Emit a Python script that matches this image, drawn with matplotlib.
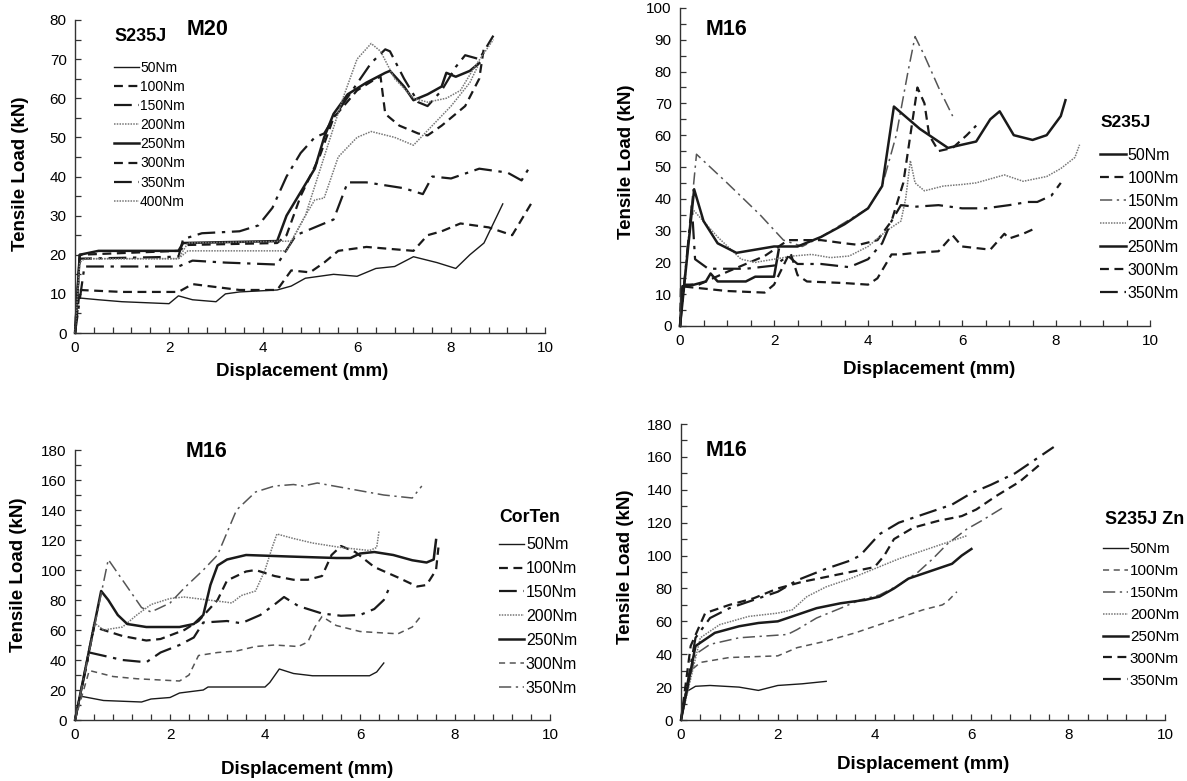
import matplotlib
matplotlib.use("Agg")
import matplotlib.pyplot as plt
from matplotlib.ticker import MultipleLocator

plt.rcParams['font.family'] = ['Liberation Sans', 'DejaVu Sans']

# ---------------- Panel 1: M20, S235J ----------------
p1_labels = ["50Nm", "100Nm", "150Nm", "200Nm", "250Nm", "300Nm", "350Nm", "400Nm"]
p1_50_x = [0, 0.05, 0.5, 1.0, 2.0, 2.2, 2.5, 3.0, 3.2, 3.5, 4.3, 4.6, 4.9, 5.5, 6.0, 6.4, 6.8, 7.2, 7.7, 8.1, 8.4, 8.7, 8.9, 9.1]
p1_50_y = [0, 9, 8.5, 8, 7.5, 9.5, 8.5, 8, 10, 10.5, 11, 12, 14, 15, 14.5, 16.5, 17, 19.5, 18, 16.5, 20, 23, 28, 33]
p1_100_x = [0, 0.1, 1.0, 2.2, 2.5, 3.5, 4.3, 4.6, 5.0, 5.3, 5.6, 6.2, 7.2, 7.5, 7.8, 8.2, 8.8, 9.3, 9.7]
p1_100_y = [0, 11, 10.5, 10.5, 12.5, 11, 11, 16, 15.5, 18, 21, 22, 21, 25, 26, 28, 27, 25, 33]
p1_150_x = [0, 0.2, 1.0, 2.2, 2.5, 3.2, 4.3, 4.7, 5.2, 5.5, 5.8, 6.2, 7.0, 7.4, 7.6, 8.0, 8.6, 9.2, 9.5, 9.7]
p1_150_y = [0, 17, 17, 17, 18.5, 18, 17.5, 25, 27.5, 29, 38.5, 38.5, 37, 35.5, 40, 39.5, 42, 41, 39, 43]
p1_200_x = [0, 0.1, 1.0, 2.2, 2.4, 4.5, 4.9, 5.1, 5.3, 5.6, 6.0, 6.3, 6.8, 7.2, 7.6, 8.0, 8.4, 8.6]
p1_200_y = [0, 19, 19, 19, 21, 21, 30, 34, 34.5, 45, 50, 51.5, 50, 48, 53, 58, 64, 69]
p1_250_x = [0, 0.1, 0.5, 2.2, 2.3, 4.3, 4.5, 4.8, 5.1, 5.3, 5.5, 5.8, 6.2, 6.6, 6.7, 7.0, 7.2, 7.5, 7.8, 7.9, 8.1, 8.4, 8.6]
p1_250_y = [0, 20, 21, 21, 23, 23.5, 30, 36, 42, 50, 56, 61, 64, 66.5, 67, 63, 59.5, 61, 63, 66.5, 65.5, 67, 69]
p1_300_x = [0, 0.1, 2.2, 2.4, 4.3, 4.5, 4.8, 5.2, 5.5, 6.0, 6.4, 6.5, 6.6, 6.9, 7.3, 7.5, 7.8, 8.3, 8.6, 8.7]
p1_300_y = [0, 20, 21, 22.5, 23, 25, 35, 45, 55, 62, 65, 65.5, 56, 53, 51, 50.5, 53, 58, 65, 73]
p1_350_x = [0, 0.1, 2.2, 2.3, 2.7, 3.5, 3.9, 4.2, 4.5, 4.8, 5.1, 5.3, 5.5, 5.9, 6.3, 6.6, 6.7, 7.0, 7.3, 7.5, 7.8, 8.1, 8.3, 8.6, 8.9]
p1_350_y = [0, 19, 19.5, 24, 25.5, 26, 27.5, 32, 40, 46, 50, 51, 55, 62, 69, 72.5, 72, 65, 59, 58, 62, 68, 71, 70, 76]
p1_400_x = [0, 0.1, 0.2, 2.2, 2.4, 4.6, 4.9, 5.3, 5.7, 6.0, 6.3, 6.5, 6.8, 7.2, 7.5, 7.9, 8.2, 8.5, 8.9]
p1_400_y = [0, 18, 19, 19, 23, 23.5, 30, 45, 60, 70, 74, 72, 65, 60, 59, 60, 62, 68, 75]

# ---------------- Panel 2: M16, S235J ----------------
p2_labels = ["50Nm", "100Nm", "150Nm", "200Nm", "250Nm", "300Nm", "350Nm"]
p2_50_x = [0, 0.05, 0.3, 0.55, 0.65, 0.8, 1.4, 1.6, 2.0, 2.1]
p2_50_y = [0, 12.5, 13, 14, 16.5, 14, 14, 15.5, 15.5, 24]
p2_100_x = [0, 0.05, 0.4, 1.0, 1.8, 2.1, 2.3, 3.0, 3.5, 3.8, 4.2, 4.5, 4.75, 4.9, 5.05, 5.2, 5.3, 5.5, 5.8, 6.1, 6.3]
p2_100_y = [0, 13, 13, 17, 22, 25, 27, 27, 26, 25.5, 27, 33, 45, 60, 75, 70, 60, 55, 56, 60, 63]
p2_150_x = [0, 0.35, 1.0, 1.7, 2.2, 2.6, 3.0, 4.0, 4.3, 4.6, 4.85, 5.0, 5.2, 5.5, 5.8]
p2_150_y = [0, 54, 45, 35, 27, 25, 28, 37, 44, 60, 80, 91, 85, 75, 66]
p2_200_x = [0, 0.25, 0.8, 1.3, 1.6, 2.0, 2.4, 2.8, 3.2, 3.6, 4.0, 4.4, 4.7, 4.8, 4.9, 5.0, 5.2, 5.6, 6.0, 6.3, 6.9, 7.3, 7.8, 8.1, 8.4, 8.5]
p2_200_y = [0, 37, 28, 21, 20, 21, 22, 22.5, 21.5, 22, 25, 30, 33, 40, 52, 45, 42.5, 44, 44.5, 45, 47.5, 45.5, 47, 49.5, 53, 57]
p2_250_x = [0, 0.3, 0.5, 0.8, 1.2, 2.0, 2.5, 3.0, 3.5, 4.0, 4.3, 4.55, 5.1, 5.7, 6.3, 6.6, 6.8, 7.1, 7.5, 7.8, 8.1, 8.2]
p2_250_y = [0, 43, 33, 26, 23, 25, 25, 28, 32, 37, 44, 69, 62, 56, 58, 65, 67.5, 60, 58.5, 60, 66, 71]
p2_300_x = [0, 0.02, 1.0, 1.8, 2.0, 2.3, 2.35, 2.5, 2.7, 3.5, 4.0, 4.2, 4.5, 4.7, 5.0, 5.5, 5.8, 6.0, 6.6, 6.9, 7.0, 7.3, 7.6]
p2_300_y = [0, 12.5, 11, 10.5, 13, 22, 23, 16, 14, 13.5, 13, 15, 22.5, 22.5, 23, 23.5, 28.5, 25, 24, 29, 27.5, 29, 31]
p2_350_x = [0, 0.25, 0.32, 0.6, 1.4, 2.0, 2.3, 2.5, 3.0, 3.6, 4.0, 4.3, 4.5, 4.7, 5.0, 5.5, 6.0, 6.5, 7.0, 7.4, 7.6, 7.9, 8.1]
p2_350_y = [0, 38, 21, 18, 18, 19, 22, 19.5, 19.5, 18.5, 21, 26, 33, 38, 37.5, 38, 37, 37, 38, 39, 39, 41, 45]

# ---------------- Panel 3: M16, CorTen ----------------
p3_labels = ["50Nm", "100Nm", "150Nm", "200Nm", "250Nm", "300Nm", "350Nm"]
p3_50_x = [0, 0.1, 0.6, 1.4, 1.6, 2.0, 2.2, 2.7, 2.8, 4.0, 4.1, 4.3, 4.6, 5.0, 6.2, 6.35, 6.5]
p3_50_y = [0, 16, 13, 12, 14, 15, 18, 20, 22, 22, 25, 34, 31, 29.5, 29.5, 32, 38]
p3_100_x = [0, 0.4, 1.0, 1.5, 1.8, 2.3, 2.6, 3.0, 3.2, 3.6, 3.8, 4.2, 4.6, 4.9, 5.2, 5.4, 5.6, 5.9, 6.3, 6.8, 7.2, 7.4, 7.6, 7.65]
p3_100_y = [0, 62, 56, 53, 54, 60, 66, 80, 93, 99, 100, 96, 93.5, 93.5, 96, 110, 116, 112, 102, 95, 89, 90, 100, 115]
p3_150_x = [0, 0.3, 1.0, 1.5, 1.8, 2.2, 2.5, 2.7, 3.2, 3.5, 3.9, 4.2, 4.4, 4.7, 5.2, 5.6, 6.0, 6.3, 6.5, 6.6]
p3_150_y = [0, 45, 40, 38.5, 45, 50, 55, 65, 66, 64.5, 70, 77, 82, 76, 71, 69.5, 70, 74, 80, 87]
p3_200_x = [0, 0.4, 0.6, 1.0, 1.3, 1.6, 2.0, 2.3, 2.8, 3.2, 3.3, 3.5, 3.8, 4.0, 4.15, 4.25, 4.6, 5.0, 5.6, 6.2, 6.35, 6.4]
p3_200_y = [0, 65, 60, 62, 70, 77, 81, 82, 80, 78.5, 78, 83, 86, 100, 115, 124, 121, 118, 115, 113, 115, 126]
p3_250_x = [0, 0.55, 0.7, 0.9, 1.1, 1.5, 2.2, 2.5, 2.7, 2.85, 3.0, 3.2, 3.6, 4.5, 5.5, 5.8, 6.0, 6.3, 6.7, 7.1, 7.4, 7.55, 7.6]
p3_250_y = [0, 86, 80, 70, 64, 62, 62, 64, 70, 90, 103, 107, 110, 109, 108, 108, 111, 112, 110, 106.5, 105, 107, 120]
p3_300_x = [0, 0.3, 0.8, 1.3, 2.2, 2.4, 2.6, 3.0, 3.4, 3.8, 4.2, 4.7, 4.9, 5.05, 5.2, 5.5, 6.0, 6.5, 6.8, 7.1, 7.3]
p3_300_y = [0, 33, 29, 27.5, 26, 30, 43, 45, 46, 49, 50, 49, 52, 62, 69, 63, 59, 58, 57.5, 62, 70]
p3_350_x = [0, 0.7, 1.4, 1.6, 2.0, 2.3, 2.7, 3.0, 3.4, 3.8, 4.2, 4.6, 4.8, 5.1, 5.8, 6.5, 7.1, 7.3]
p3_350_y = [0, 107, 75, 72, 78, 88, 100, 110, 140, 152, 156, 157, 156, 158, 154, 150, 148, 156]

# ---------------- Panel 4: M16, S235J Zn ----------------
p4_labels = ["50Nm", "100Nm", "150Nm", "200Nm", "250Nm", "300Nm", "350Nm"]
p4_50_x = [0, 0.1, 0.3, 0.6, 1.2, 1.6, 2.0, 2.5, 3.0]
p4_50_y = [0, 17, 20.5, 21, 20, 18, 21, 22, 23.5]
p4_100_x = [0, 0.2, 0.4, 1.0, 2.0, 2.4, 3.0, 3.6, 4.0, 4.5, 5.0, 5.4, 5.5, 5.7]
p4_100_y = [0, 30, 35, 38, 39, 44, 48, 53, 57, 62, 67, 70, 72, 78]
p4_150_x = [0, 0.3, 0.6, 1.2, 1.7, 2.2, 2.4, 2.8, 3.3, 3.7, 4.1, 4.5, 4.9, 5.2, 5.5, 5.9, 6.2, 6.7]
p4_150_y = [0, 40, 46, 50, 51, 52, 55, 62, 68, 73, 76, 82, 90, 98, 107, 116, 121, 130]
p4_200_x = [0, 0.4, 0.8, 1.4, 2.0, 2.3, 2.6, 3.0, 3.5, 4.0, 4.5, 5.0, 5.5, 5.9]
p4_200_y = [0, 50, 58, 63, 65, 67, 75, 81, 86, 92, 98, 103, 108, 112]
p4_250_x = [0, 0.3, 0.7, 1.2, 1.6, 2.0, 2.4, 2.8, 3.3, 3.8, 4.1, 4.4, 4.7, 5.1, 5.4, 5.6, 5.8, 6.0]
p4_250_y = [0, 45, 53, 57, 59, 60, 64, 68, 71, 73, 75, 80, 86, 90, 93, 95, 100, 104]
p4_300_x = [0, 0.2, 0.5, 1.0, 1.5, 2.0, 2.5, 3.0, 3.5, 4.0, 4.2, 4.4, 4.8, 5.3, 5.8, 6.1, 6.5, 7.0, 7.4]
p4_300_y = [0, 45, 65, 70, 74, 80, 84, 87, 90, 93, 100, 110, 117, 121, 124, 128, 136, 145, 155]
p4_350_x = [0, 0.3, 0.6, 1.0, 1.4, 1.7, 2.0, 2.4, 3.0, 3.5, 3.7, 4.1, 4.5, 4.9, 5.3, 5.6, 6.0, 6.4, 6.9, 7.3, 7.7]
p4_350_y = [0, 50, 62, 68, 72, 75, 78, 85, 92, 97, 100, 113, 120, 124, 128, 131, 138, 143, 150, 158, 166]

# ---------------- styles ----------------
K = "#1a1a1a"
G = "#555555"
S_THIN = dict(color=K, lw=1.0, ls="-")
S_THICK = dict(color=K, lw=1.8, ls="-")
D_THIN = dict(color=G, lw=1.1, ls=(0, (4, 3)))
D_THICK = dict(color=K, lw=1.6, ls=(0, (4, 2.5)))
DD_THIN = dict(color=G, lw=1.1, ls=(0, (8, 3, 1.5, 3)))
DD_THICK = dict(color=K, lw=1.6, ls=(0, (8, 3, 1.5, 3)))
DOT = dict(color="#777777", lw=1.1, ls=(0, (1, 0.8)))

fig = plt.figure(figsize=(11.87, 7.81), dpi=100)


def setup(ax, ymax, ystep, yminor, xminor):
    ax.set_xlim(0, 10)
    ax.set_ylim(0, ymax)
    ax.xaxis.set_major_locator(MultipleLocator(2))
    ax.xaxis.set_minor_locator(MultipleLocator(xminor))
    ax.yaxis.set_major_locator(MultipleLocator(ystep))
    ax.yaxis.set_minor_locator(MultipleLocator(yminor))
    for s in ("top", "right"):
        ax.spines[s].set_visible(False)
    for s in ("left", "bottom"):
        ax.spines[s].set_color("#333333")
        ax.spines[s].set_linewidth(1.0)
    ax.tick_params(which="both", direction="in", length=4, width=0.9, color="#333333",
                   labelsize=11, pad=6)
    ax.set_xlabel("Displacement (mm)", fontsize=13.5, fontweight="bold")
    ax.set_ylabel("Tensile Load (kN)", fontsize=13.5, fontweight="bold")
    ax.patch.set_alpha(0)


def draw(ax, xs, ys, styles, labels):
    lines = []
    for x, y, st, lab in zip(xs, ys, styles, labels):
        ln, = ax.plot(x, y, label=lab, clip_on=False, **st)
        lines.append(ln)
    return lines


def add_legend(ax, handles, x, ytop, fs, hl, ls):
    ax.legend(handles=handles, loc="upper left", bbox_to_anchor=(x, ytop),
              bbox_transform=ax.transData, frameon=False, fontsize=fs,
              handlelength=hl, handletextpad=0.1, labelspacing=ls,
              borderpad=0, borderaxespad=0)


# Panel 1
ax1 = fig.add_axes([0.0632, 0.5736, 0.3960, 0.4008])
setup(ax1, 80, 10, 5, 0.4)
l1 = draw(ax1,
          [p1_50_x, p1_100_x, p1_150_x, p1_200_x, p1_250_x, p1_300_x, p1_350_x, p1_400_x],
          [p1_50_y, p1_100_y, p1_150_y, p1_200_y, p1_250_y, p1_300_y, p1_350_y, p1_400_y],
          [S_THIN, D_THICK, DD_THICK, DOT, S_THICK, D_THICK, DD_THICK, DOT], p1_labels)
ax1.xaxis.set_label_coords(0.484, -0.097)
ax1.yaxis.set_label_coords(-0.098, 0.509)
ax1.text(2.82, 77.5, "M20", fontsize=15.5, fontweight="bold", ha="center", va="center")
ax1.text(0.83, 75.7, "S235J", fontsize=13, fontweight="bold", ha="left", va="center")
add_legend(ax1, l1, 0.82, 69.6, 10, 1.8, 0.37)

# Panel 2
ax2 = fig.add_axes([0.5729, 0.5826, 0.3960, 0.4072])
setup(ax2, 100, 10, 5, 0.5)
l2 = draw(ax2,
          [p2_50_x, p2_100_x, p2_150_x, p2_200_x, p2_250_x, p2_300_x, p2_350_x],
          [p2_50_y, p2_100_y, p2_150_y, p2_200_y, p2_250_y, p2_300_y, p2_350_y],
          [S_THICK, D_THICK, DD_THIN, DOT, S_THICK, D_THICK, DD_THICK], p2_labels)
ax2.xaxis.set_label_coords(0.53, -0.109)
ax2.yaxis.set_label_coords(-0.096, 0.515)
ax2.text(0.98, 93.3, "M16", fontsize=15.5, fontweight="bold", ha="center", va="center")
ax2.text(8.94, 64.1, "S235J", fontsize=12.5, fontweight="bold", ha="left", va="center")
add_legend(ax2, l2, 8.94, 56.0, 11.5, 1.6, 0.5)

# Panel 3
ax3 = fig.add_axes([0.0632, 0.0781, 0.4002, 0.3457])
setup(ax3, 180, 20, 10, 0.4)
l3 = draw(ax3,
          [p3_50_x, p3_100_x, p3_150_x, p3_200_x, p3_250_x, p3_300_x, p3_350_x],
          [p3_50_y, p3_100_y, p3_150_y, p3_200_y, p3_250_y, p3_300_y, p3_350_y],
          [S_THIN, D_THICK, DD_THICK, DOT, S_THICK, D_THIN, DD_THIN], p3_labels)
ax3.xaxis.set_label_coords(0.488, -0.150)
ax3.yaxis.set_label_coords(-0.101, 0.539)
ax3.text(2.76, 179.1, "M16", fontsize=15.5, fontweight="bold", ha="center", va="center")
ax3.text(8.93, 135, "CorTen", fontsize=12.7, fontweight="bold", ha="left", va="center")
add_legend(ax3, l3, 8.93, 121.9, 11.5, 1.57, 0.56)

# Panel 4
ax4 = fig.add_axes([0.5737, 0.0781, 0.4078, 0.3790])
setup(ax4, 180, 20, 10, 0.4)
l4 = draw(ax4,
          [p4_50_x, p4_100_x, p4_150_x, p4_200_x, p4_250_x, p4_300_x, p4_350_x],
          [p4_50_y, p4_100_y, p4_150_y, p4_200_y, p4_250_y, p4_300_y, p4_350_y],
          [S_THIN, D_THIN, DD_THIN, DOT, S_THICK, D_THICK, DD_THICK], p4_labels)
ax4.xaxis.set_label_coords(0.50, -0.122)
ax4.yaxis.set_label_coords(-0.098, 0.517)
ax4.text(0.95, 163.9, "M16", fontsize=15.5, fontweight="bold", ha="center", va="center")
ax4.text(8.76, 122, "S235J Zn", fontsize=13, fontweight="bold", ha="left", va="center")
add_legend(ax4, l4, 8.72, 108.2, 11, 1.65, 0.52)

fig.savefig("out.png", dpi=100)
